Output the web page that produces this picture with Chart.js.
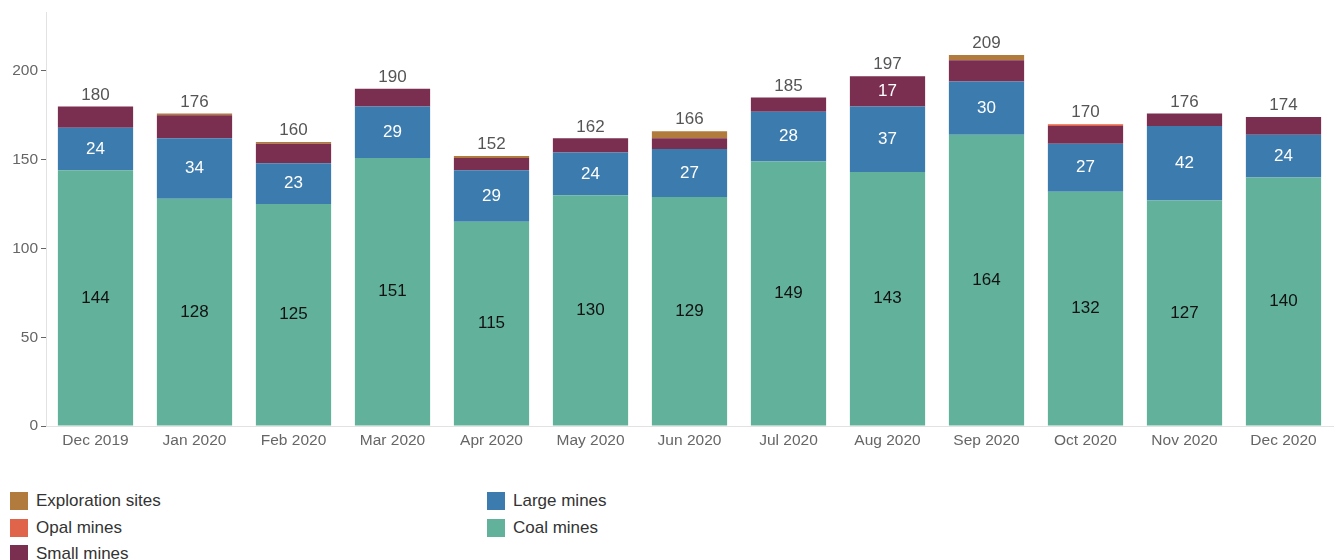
<!DOCTYPE html>
<html>
<head>
<meta charset="utf-8">
<script src="https://cdn.jsdelivr.net/npm/chart.js@4"></script>
<style>
  html, body { margin: 0; padding: 0; background: #fff; width: 1335px; height: 560px; overflow: hidden; }
  body { font-family: Arial, 'Liberation Sans', sans-serif; position: relative; }
  #wrap { position: absolute; left: 0; top: 0; width: 1335px; height: 456px; }
  #legend { position: absolute; left: 10px; top: 491px; width: 1000px; }
  .item { position: absolute; display: flex; align-items: center; font-size: 17px; color: #333; white-space: nowrap; }
  .sw { width: 18px; height: 18px; margin-right: 8px; }
</style>
</head>
<body>
<div id="wrap"><canvas id="chart"></canvas></div>
<div id="legend"></div>
<script>
// categories + series
const MONTHS = ['Dec 2019','Jan 2020','Feb 2020','Mar 2020','Apr 2020','May 2020','Jun 2020',
                'Jul 2020','Aug 2020','Sep 2020','Oct 2020','Nov 2020','Dec 2020'];
const COAL    = [144,128,125,151,115,130,129,149,143,164,132,127,140];
const LARGE   = [ 24, 34, 23, 29, 29, 24, 27, 28, 37, 30, 27, 42, 24];
const SMALL   = [ 12, 13, 11, 10,  7,  8,  6,  8, 17, 12, 10,  7, 10];
const OPAL    = [  0,  0,  0,  0,  0,  0,  0,  0,  0,  0,  1,  0,  0];
const EXPLORE = [  0,  1,  1,  0,  1,  0,  4,  0,  0,  3,  0,  0,  0];
const TOTALS  = [180,176,160,190,152,162,166,185,197,209,170,176,174];
const Y_TICKS = [0,50,100,150,200];

// palette
const C_COAL = '#62b29b', C_LARGE = '#3c7bae', C_SMALL = '#7a2e50', C_OPAL = '#e0644a', C_EXPL = '#b07b3c';
const FONT = 'Arial, "Liberation Sans", sans-serif';

function barDS(label, data, color, labelColor){
  return { label, data, backgroundColor: color, borderWidth: 0, stack: 's',
           categoryPercentage: 1, barPercentage: 0.76, _lc: labelColor };
}

const datasets = [
  barDS('Coal mines', COAL, C_COAL, '#111'),
  barDS('Large mines', LARGE, C_LARGE, '#fff'),
  barDS('Small mines', SMALL, C_SMALL, '#fff'),
  barDS('Opal mines', OPAL, C_OPAL, '#fff'),
  barDS('Exploration sites', EXPLORE, C_EXPL, '#fff'),
];

// segment values + totals
const labelPlugin = {
  id: 'segLabels',
  afterDatasetsDraw(chart){
    const ctx = chart.ctx;
    ctx.save();
    ctx.font = '17px ' + FONT;
    ctx.textAlign = 'center';
    ctx.textBaseline = 'middle';
    chart.data.datasets.forEach((ds, i) => {
      const meta = chart.getDatasetMeta(i);
      meta.data.forEach((bar, j) => {
        const v = ds.data[j];
        if (v < 15) return;
        ctx.fillStyle = ds._lc;
        ctx.fillText(String(v), bar.x, (bar.y + bar.base) / 2);
      });
    });
    const y = chart.scales.y;
    const x = chart.scales.x;
    ctx.fillStyle = '#555';
    ctx.textBaseline = 'bottom';
    TOTALS.forEach((t, j) => {
      ctx.fillText(String(t), x.getPixelForValue(j), y.getPixelForValue(t) - 3);
    });
    ctx.restore();
  }
};

new Chart(document.getElementById('chart'), {
  type: 'bar',
  data: { labels: MONTHS, datasets },
  options: {
    responsive: true,
    maintainAspectRatio: false,
    animation: false,
    layout: { padding: { top: 10, right: 2, left: 0, bottom: 0 } },
    plugins: { legend: { display: false }, tooltip: { enabled: false } },
    scales: {
      x: {
        stacked: true,
        afterFit(s){ s.height = 30; },
        grid: { display: false, drawTicks: false },
        border: { color: '#e2e2e2', width: 1 },
        ticks: { color: '#666', font: { size: 15.5, family: FONT }, padding: 5, maxRotation: 0 }
      },
      y: {
        stacked: true,
        min: 0, max: 233,
        afterBuildTicks(s){ s.ticks = Y_TICKS.map(v => ({ value: v })); },
        afterFit(s){ s.width = 46; },
        grid: { drawOnChartArea: false, drawTicks: true, tickLength: 5, color: '#666', tickColor: '#666' },
        border: { color: '#e2e2e2', width: 1 },
        ticks: { color: '#666', font: { size: 15.5, family: FONT }, padding: 3 }
      }
    }
  },
  plugins: [labelPlugin]
});

// legend in two columns, as in the original
const LEGEND = [
  { ds: 4, left: 0,   top: 0 },
  { ds: 3, left: 0,   top: 27 },
  { ds: 2, left: 0,   top: 53 },
  { ds: 1, left: 477, top: 0 },
  { ds: 0, left: 477, top: 27 },
];
const lg = document.getElementById('legend');
LEGEND.forEach(it => {
  const d = datasets[it.ds];
  const el = document.createElement('div');
  el.className = 'item';
  el.style.left = it.left + 'px';
  el.style.top = it.top + 'px';
  el.innerHTML = `<span class="sw" style="background:${d.backgroundColor}"></span>${d.label}`;
  lg.appendChild(el);
});
</script>
</body>
</html>
